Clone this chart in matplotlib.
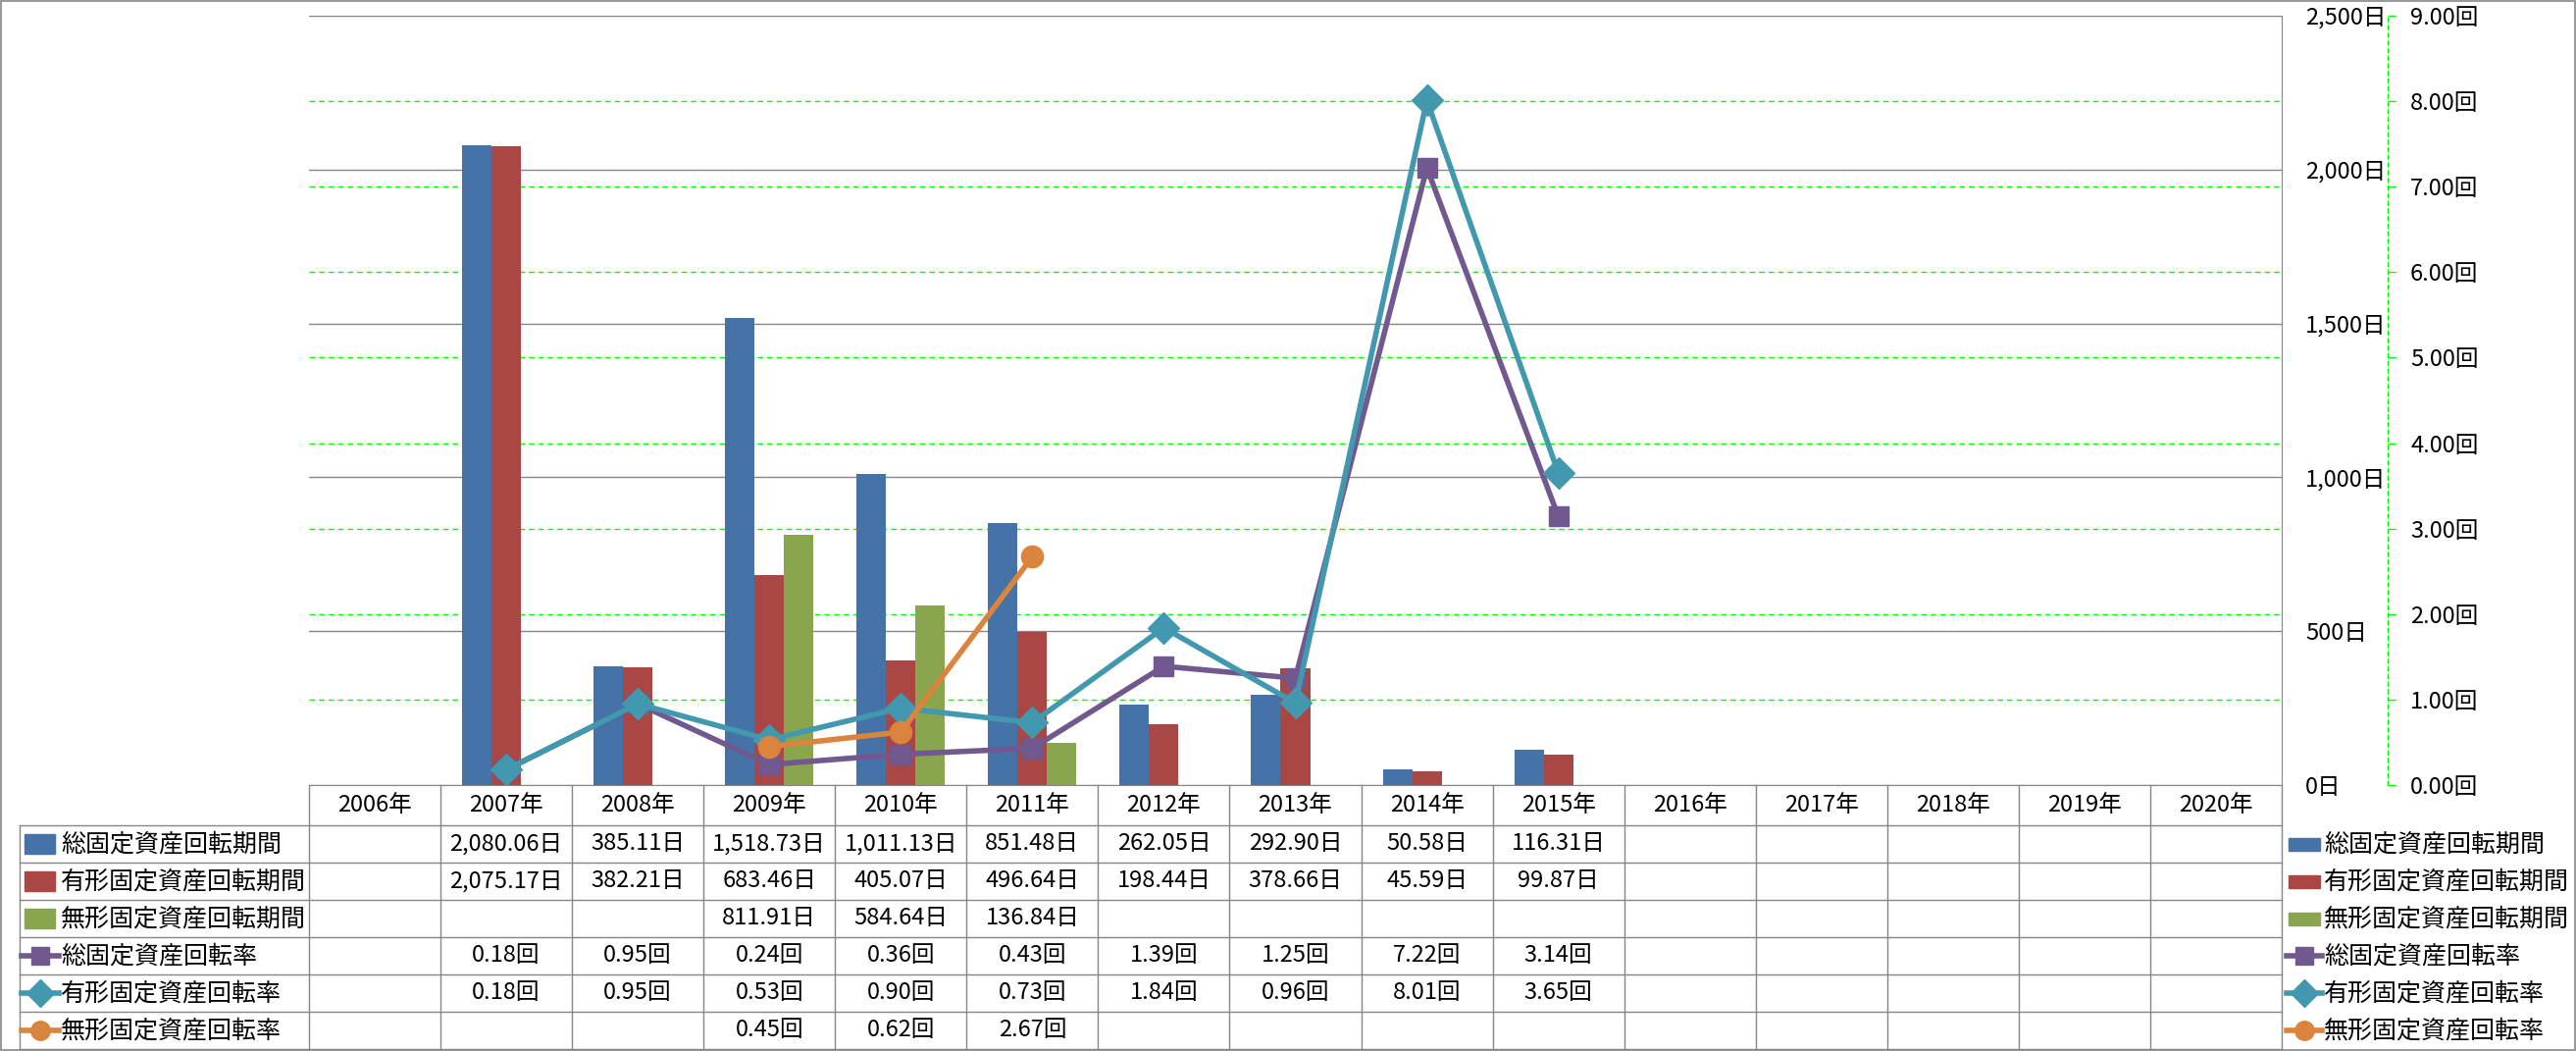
import numpy as np
import matplotlib.pyplot as plt
from matplotlib.patches import Rectangle

plt.rcParams['font.family'] = ['Noto Sans CJK JP', 'DejaVu Sans']

nan = np.nan

# categories
years = list(range(2006, 2021))
year_labels = [f'{y}年' for y in years]

# period series (days) - bars on the primary axis
total_days = [nan, 2080.06, 385.11, 1518.73, 1011.13, 851.48, 262.05, 292.90, 50.58, 116.31,
              nan, nan, nan, nan, nan]
tangible_days = [nan, 2075.17, 382.21, 683.46, 405.07, 496.64, 198.44, 378.66, 45.59, 99.87,
                 nan, nan, nan, nan, nan]
intangible_days = [nan, nan, nan, 811.91, 584.64, 136.84, nan, nan, nan, nan,
                   nan, nan, nan, nan, nan]

# turnover series (times) - lines on the secondary axis
total_rate = [nan, 0.18, 0.95, 0.24, 0.36, 0.43, 1.39, 1.25, 7.22, 3.14,
              nan, nan, nan, nan, nan]
tangible_rate = [nan, 0.18, 0.95, 0.53, 0.90, 0.73, 1.84, 0.96, 8.01, 3.65,
                 nan, nan, nan, nan, nan]
intangible_rate = [nan, nan, nan, 0.45, 0.62, 2.67, nan, nan, nan, nan,
                   nan, nan, nan, nan, nan]

bar_names = ['総固定資産回転期間', '有形固定資産回転期間', '無形固定資産回転期間']
line_names = ['総固定資産回転率', '有形固定資産回転率', '無形固定資産回転率']
bar_colors = ['#4572A7', '#AA4643', '#89A54E']
line_colors = ['#71588F', '#4198AF', '#DB843D']
line_markers = ['s', 'D', 'o']
marker_sizes = [15, 16, 16]

W, H = 2626, 1071
PL, PR, PT, PB = 315, 2326, 16, 800   # plot area in pixels
GRAY = '#868686'
GREEN = '#00FF00'
FS = 17
FS_NAME = 18

fig = plt.figure(figsize=(W / 100, H / 100), dpi=100)
ax = fig.add_axes([PL / W, 1 - PB / H, (PR - PL) / W, (PB - PT) / H])
x = np.arange(len(years))
bw = 0.2238

for off, vals, c in zip([-bw, 0, bw], [total_days, tangible_days, intangible_days], bar_colors):
    ax.bar(x + off, vals, bw, color=c, zorder=2)

ax.set_xlim(-0.5, len(years) - 0.5)
ax.set_ylim(0, 2500)
ax.set_yticks(range(0, 2501, 500))
ax.set_yticklabels([f'{v:,}日' for v in range(0, 2501, 500)])
ax.set_xticks([])
ax.yaxis.grid(True, color=GRAY, lw=1)
ax.set_axisbelow(True)
# secondary gridlines sit behind the bars, so draw them on the primary axes
for k in range(1, 9):
    ax.axhline(k * 2500 / 9, color=GREEN, lw=1, ls=(0, (4, 3)), zorder=1)
for s in ['top', 'left']:
    ax.spines[s].set_visible(False)
ax.spines['right'].set_color(GRAY)
ax.spines['bottom'].set_color(GRAY)

ax2 = ax.twinx()
# twinx moves the primary ticks back to the left
ax.yaxis.tick_right()
ax.tick_params(axis='y', length=0, pad=17.3, labelsize=FS)

ax2.set_ylim(0, 9)
ax2.set_yticks(range(0, 10))
ax2.set_yticklabels([f'{v:.2f}回' for v in range(0, 10)])
for s in ['top', 'left', 'bottom']:
    ax2.spines[s].set_visible(False)
ax2.spines['right'].set_position(('axes', (2434 - PL) / (PR - PL)))
ax2.spines['right'].set_color(GREEN)
ax2.spines['right'].set_linestyle((0, (4, 3)))
ax2.tick_params(axis='y', direction='out', length=5.8, width=1, color=GREEN,
                pad=10.8, labelsize=FS, labelcolor='black')

for vals, c, m, ms in zip([total_rate, tangible_rate, intangible_rate], line_colors,
                          line_markers, marker_sizes):
    ax2.plot(x, vals, color=c, lw=4, marker=m, ms=ms, mec=c, mfc=c, zorder=3)

# data table + legend drawn in pixel space
tab = fig.add_axes([0, 0, 1, 1])
tab.set_xlim(0, W)
tab.set_ylim(H, 0)
tab.axis('off')

cw = (PR - PL) / len(years)
col_edges = [PL + i * cw for i in range(len(years) + 1)]
HEAD_B = 841
RH = 38
row_edges = [HEAD_B + i * RH for i in range(7)]
TL = 20

for xe in col_edges:
    tab.plot([xe, xe], [PB, row_edges[-1]], color=GRAY, lw=1)
tab.plot([TL, TL], [HEAD_B, row_edges[-1]], color=GRAY, lw=1)
for ye in row_edges:
    tab.plot([TL, PR], [ye, ye], color=GRAY, lw=1)

for i, lab in enumerate(year_labels):
    tab.text(col_edges[i] + cw / 2, (PB + HEAD_B) / 2, lab, ha='center', va='center', fontsize=FS)

rows = [(total_days, '日'), (tangible_days, '日'), (intangible_days, '日'),
        (total_rate, '回'), (tangible_rate, '回'), (intangible_rate, '回')]
for r, (vals, unit) in enumerate(rows):
    yc = row_edges[r] + RH / 2
    for i, v in enumerate(vals):
        if not np.isnan(v):
            tab.text(col_edges[i] + cw / 2, yc, f'{v:,.2f}{unit}', ha='center', va='center',
                     fontsize=FS)

names = bar_names + line_names
for r, name in enumerate(names):
    yc = row_edges[r] + RH / 2
    if r < 3:
        tab.add_patch(Rectangle((25, yc - 10), 31, 20, color=bar_colors[r]))
        tab.add_patch(Rectangle((2333, yc - 6.5), 32, 13, color=bar_colors[r]))
    else:
        k = r - 3
        for xs in ([22, 41, 60], [2331, 2349, 2367]):
            tab.plot(xs, [yc] * 3, color=line_colors[k], lw=4, marker=line_markers[k],
                     ms=marker_sizes[k] - 2, mec=line_colors[k], markevery=[1])
    tab.text(62, yc, name, ha='left', va='center', fontsize=FS_NAME)
    tab.text(2369, yc, name, ha='left', va='center', fontsize=FS_NAME)

tab.add_patch(Rectangle((0.5, 0.5), W - 1.5, H - 1.5, fill=False, ec=GRAY, lw=1.2))

fig.savefig('out.png', dpi=100)
